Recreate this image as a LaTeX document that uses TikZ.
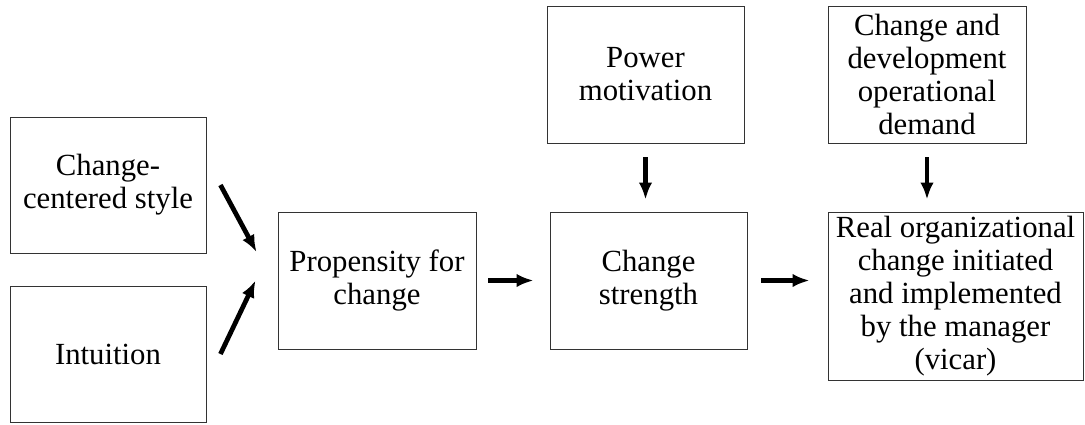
\documentclass[tikz,border=0pt]{standalone}
\usepackage{fontspec}
\setmainfont{Liberation Serif}
\usetikzlibrary{arrows.meta}

\tikzset{
    factor/.style={draw=black!80, line width=0.55pt, align=center, inner sep=0pt,
        font=\fontsize{17.5}{18.8}\selectfont},
    thickarrow/.style={line width=2.7pt, -{Latex[length=3.4mm, width=2.7mm]}}
}

\begin{document}
\begin{tikzpicture}[x=0.02cm, y=-0.02cm]

    \useasboundingbox (0,0) rectangle (1085,424);

    % antecedents
    \node[factor, minimum width=3.92cm, minimum height=2.72cm] (style) at (108,185) {Change-\\centered style};
    \node[factor, minimum width=3.92cm, minimum height=2.72cm] (intuition) at (108,354) {Intuition};

    % propensity and strength
    \node[factor, minimum width=3.96cm, minimum height=2.74cm] (propensity) at (377,280.5) {Propensity for\\change};
    \node[factor, minimum width=3.94cm, minimum height=2.74cm] (strength) at (648.5,280.5) {Change\\strength};

    % moderators
    \node[factor, minimum width=3.94cm, minimum height=2.74cm] (power) at (645.5,74.5) {Power\\motivation};
    \node[factor, minimum width=3.96cm, minimum height=2.74cm] (demand) at (927,74.5) {Change and\\development\\operational\\demand};

    % outcome
    \node[factor, minimum width=5.1cm, minimum height=3.36cm] (outcome) at (955.5,296) {Real organizational\\change initiated\\and implemented\\by the manager\\(vicar)};

    % arrows
    \draw[thickarrow] ([xshift=0.28cm]style.east) -- ([shift={(-0.42cm,0.57cm)}]propensity.west);
    \draw[thickarrow] ([xshift=0.28cm]intuition.east) -- ([xshift=-0.44cm]propensity.west);
    \draw[thickarrow, shorten <=0.24cm, shorten >=0.32cm] (propensity.east) -- (strength.west |- propensity.east);
    \draw[thickarrow, shorten <=0.28cm, shorten >=0.24cm] (power.south) -- (power.south |- strength.north);
    \draw[thickarrow, shorten <=0.28cm, shorten >=0.24cm] (demand.south) -- (demand.south |- outcome.north);
    \draw[thickarrow, shorten <=0.28cm, shorten >=0.36cm] (strength.east) -- (strength.east -| outcome.west);

\end{tikzpicture}
\end{document}
